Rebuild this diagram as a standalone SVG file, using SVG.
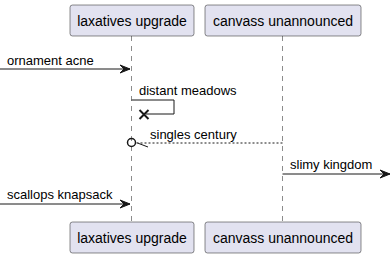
<svg xmlns="http://www.w3.org/2000/svg" width="391" height="257" viewBox="0 0 391 257">
  <style>
    .box { fill: #E2E2F0; stroke: #181818; stroke-width: 0.5; }
    .life { stroke: #181818; stroke-width: 0.5; stroke-dasharray: 5 5; fill: none; }
    .pname { font-family: "Liberation Sans", Arial, sans-serif; font-size: 14px; fill: #000; text-anchor: middle; }
    .msg { font-family: "Liberation Sans", Arial, sans-serif; font-size: 13px; fill: #000; }
    .line { stroke: #181818; stroke-width: 1; fill: none; }
    .dot { stroke: #181818; stroke-width: 1; fill: none; stroke-dasharray: 2 2; }
    .head { fill: #181818; stroke: #181818; stroke-width: 1; }
    .cross { stroke: #181818; stroke-width: 2; fill: none; }
  </style>

  <!-- lifelines -->
  <g id="lifelines">
    <line class="life" x1="131.5" y1="36" x2="131.5" y2="222"/>
    <line class="life" x1="282.5" y1="36" x2="282.5" y2="222"/>
  </g>

  <g id="laxatives-upgrade">
    <rect class="box" x="70" y="5" width="124" height="31" rx="2.5"/>
    <text class="pname" x="132" y="25.5">laxatives upgrade</text>
    <rect class="box" x="70" y="222" width="124" height="31" rx="2.5"/>
    <text class="pname" x="132" y="242.5">laxatives upgrade</text>
  </g>

  <g id="canvass-unannounced">
    <rect class="box" x="205" y="5" width="156" height="31" rx="2.5"/>
    <text class="pname" x="283" y="25.5">canvass unannounced</text>
    <rect class="box" x="205" y="222" width="156" height="31" rx="2.5"/>
    <text class="pname" x="283" y="242.5">canvass unannounced</text>
  </g>

  <g id="connectors">
    <!-- ornament acne -->
    <line class="line" x1="0" y1="69" x2="130" y2="69"/>
    <polygon class="head" points="120,65 130,69 120,73 124,69"/>
    <text class="msg" x="7" y="65">ornament acne</text>

    <!-- distant meadows (self, destroyed) -->
    <polyline class="line" points="131.5,100 174,100 174,114 146,114"/>
    <line class="cross" x1="139.5" y1="110" x2="148.5" y2="119"/>
    <line class="cross" x1="139.5" y1="119" x2="148.5" y2="110"/>
    <text class="msg" x="139" y="95">distant meadows</text>

    <!-- singles century -->
    <line class="dot" x1="282.5" y1="143" x2="136" y2="143"/>
    <circle cx="131.5" cy="142.5" r="4" fill="none" stroke="#181818" stroke-width="1.5"/>
    <line class="line" x1="137.5" y1="143" x2="148" y2="147"/>
    <text class="msg" x="150" y="139">singles century</text>

    <!-- slimy kingdom -->
    <line class="line" x1="282.5" y1="174" x2="390" y2="174"/>
    <polygon class="head" points="380,170 390,174 380,178 384,174"/>
    <text class="msg" x="290" y="169">slimy kingdom</text>

    <!-- scallops knapsack -->
    <line class="line" x1="0" y1="204" x2="130" y2="204"/>
    <polygon class="head" points="120,200 130,204 120,208 124,204"/>
    <text class="msg" x="7" y="199">scallops knapsack</text>
  </g>
</svg>
